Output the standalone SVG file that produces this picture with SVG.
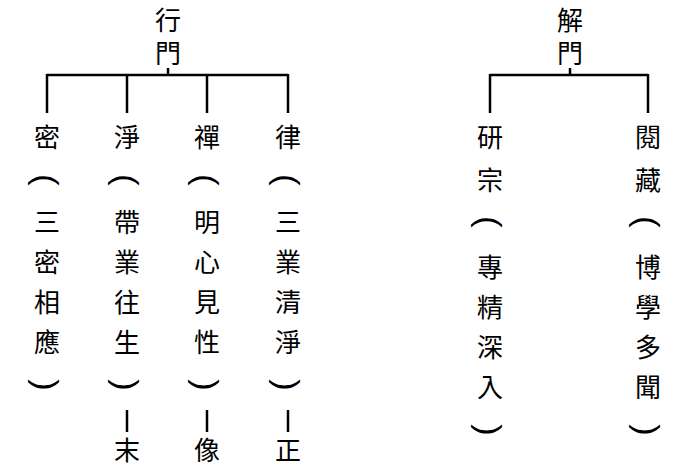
<svg xmlns="http://www.w3.org/2000/svg" width="700" height="470" viewBox="0 0 700 470">
<style>
text{font-family:"Noto Sans CJK TC","Noto Sans CJK SC",sans-serif;font-size:26px;text-anchor:middle;dominant-baseline:central;fill:#000}
text.b{font-family:"Liberation Sans",sans-serif;font-size:34px;font-weight:100}
line{stroke:#000;stroke-width:2.5}
</style>
<rect width="700" height="470" fill="#fff"/>
<g id="connectors">
<line x1="47" y1="75" x2="288" y2="75"/>
<line x1="168" y1="68" x2="168" y2="75"/>
<line x1="47" y1="74" x2="47" y2="113"/>
<line x1="127" y1="74" x2="127" y2="113"/>
<line x1="207" y1="74" x2="207" y2="113"/>
<line x1="288" y1="74" x2="288" y2="113"/>
<line x1="490" y1="75" x2="648" y2="75"/>
<line x1="570" y1="68" x2="570" y2="75"/>
<line x1="490" y1="74" x2="490" y2="113"/>
<line x1="648" y1="74" x2="648" y2="113"/>
<line x1="127" y1="410" x2="127" y2="432" stroke-width="2"/>
<line x1="207" y1="410" x2="207" y2="432" stroke-width="2"/>
<line x1="288" y1="410" x2="288" y2="432" stroke-width="2"/>
</g>
<g id="xingmen"><text x="168" y="18">行</text><text x="168" y="51">門</text></g>
<g id="jiemen"><text x="570" y="18">解</text><text x="570" y="51">門</text></g>
<g id="mi"><text x="47" y="135">密</text><text class="b" transform="translate(47 180) rotate(90)">(</text><text x="47" y="220">三</text><text x="47" y="260">密</text><text x="47" y="300">相</text><text x="47" y="340">應</text><text class="b" transform="translate(47 385) rotate(90)">)</text></g>
<g id="jing"><text x="127" y="135">淨</text><text class="b" transform="translate(127 180) rotate(90)">(</text><text x="127" y="220">帶</text><text x="127" y="260">業</text><text x="127" y="300">往</text><text x="127" y="340">生</text><text class="b" transform="translate(127 385) rotate(90)">)</text><text x="127" y="448">末</text></g>
<g id="chan"><text x="207" y="135">禪</text><text class="b" transform="translate(207 180) rotate(90)">(</text><text x="207" y="220">明</text><text x="207" y="260">心</text><text x="207" y="300">見</text><text x="207" y="340">性</text><text class="b" transform="translate(207 385) rotate(90)">)</text><text x="207" y="448">像</text></g>
<g id="lv"><text x="288" y="135">律</text><text class="b" transform="translate(288 180) rotate(90)">(</text><text x="288" y="220">三</text><text x="288" y="260">業</text><text x="288" y="300">清</text><text x="288" y="340">淨</text><text class="b" transform="translate(288 385) rotate(90)">)</text><text x="288" y="448">正</text></g>
<g id="yanzong"><text x="490" y="135">研</text><text x="490" y="178">宗</text><text class="b" transform="translate(490 222) rotate(90)">(</text><text x="490" y="265">專</text><text x="490" y="305">精</text><text x="490" y="345">深</text><text x="490" y="385">入</text><text class="b" transform="translate(490 430) rotate(90)">)</text></g>
<g id="yuezang"><text x="648" y="135">閱</text><text x="648" y="178">藏</text><text class="b" transform="translate(648 222) rotate(90)">(</text><text x="648" y="265">博</text><text x="648" y="305">學</text><text x="648" y="345">多</text><text x="648" y="385">聞</text><text class="b" transform="translate(648 430) rotate(90)">)</text></g>
</svg>
